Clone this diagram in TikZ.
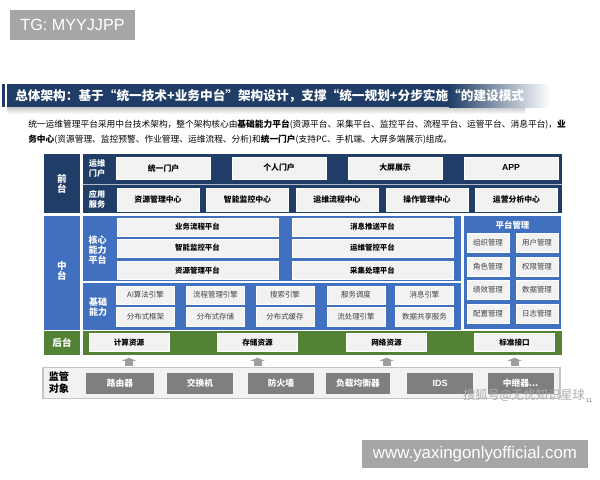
\documentclass[tikz,border=0pt]{standalone}
\usepackage{fontspec}
\setmainfont{Noto Sans CJK SC}
\newfontfamily\latinfont{Liberation Sans}
\usetikzlibrary{arrows.meta}
\definecolor{navy}{HTML}{1F3D66}
\definecolor{midblue}{HTML}{4070BF}
\definecolor{leafgreen}{HTML}{548235}
\definecolor{cellgray}{HTML}{F2F2F2}
\definecolor{boxgray}{HTML}{7F7F7F}
\definecolor{badgegray}{HTML}{A6A6A6}
\definecolor{framegray}{HTML}{C4C4C4}

\begin{document}
\begin{tikzpicture}[x=0.25mm,y=-0.25mm]
\tikzset{wh/.style 2 args = {minimum width=#1*0.25mm, minimum height=#2*0.25mm}}
\tikzset{cell/.style = {fill=cellgray, draw=white, line width=0.4pt, inner sep=0pt, text=black, font=\bfseries\fontsize{5.6}{6.5}\selectfont}}
\tikzset{plaincell/.style = {cell, text=black!75, font=\fontsize{5.3}{6}\selectfont}}
\tikzset{sidelabel/.style = {text=white, align=center, inner sep=0pt, font=\bfseries\fontsize{6.8}{7.3}\selectfont}}
\tikzset{rowlabel/.style = {text=white, align=center, inner sep=0pt, font=\bfseries\fontsize{5.8}{7.2}\selectfont}}
\tikzset{devbox/.style = {fill=boxgray, inner sep=0pt, text=white, font=\bfseries\fontsize{6.2}{7}\selectfont}}
\tikzset{badge/.style = {fill=badgegray, inner sep=0pt, text=white, font=\latinfont}}
\tikzset{up/.style = {-{Triangle[width=3.8mm,length=0.8mm]}, line width=2mm, draw=black!38, shorten <=0.25mm, shorten >=1.5mm}}
\useasboundingbox (0,0) rectangle (600,480);
\fill[white] (0,0) rectangle (600,480);
% badges
\node[badge, wh={125}{30}, font=\latinfont\fontsize{11.5}{12}\selectfont] (tg) at (72.5,25) {TG: MYYJJPP};
\node[badge, wh={226}{28}, font=\latinfont\fontsize{12}{13}\selectfont] (web) at (475,454) {www.yaxingonlyofficial.com};
% title bar
\shade[top color=black!22, bottom color=white] (7,107) rectangle (525,114);
\fill[navy] (2,84) rectangle (4.5,107);
\fill[navy] (7,84) rectangle (450,107);
\shade[left color=navy, right color=white] (449,84) rectangle (550,107);
\node[anchor=west, inner sep=0pt, text=white, font=\bfseries\fontsize{9}{10}\selectfont] (title) at (15,95.5)
  {总体架构：基于“统一技术+业务中台”架构设计，支撑“统一规划+分步实施“的建设模式};
\node[anchor=west, inner sep=0pt, font=\fontsize{6.2}{7}\selectfont] (intro1) at (28,125)
  {统一运维管理平台采用中台技术架构，整个架构核心由\textbf{基础能力平台}(资源平台、采集平台、监控平台、流程平台、运管平台、消息平台)，\textbf{业}};
\node[anchor=west, inner sep=0pt, font=\fontsize{6.2}{7}\selectfont] (intro2) at (28,140)
  {\textbf{务中心}(资源管理、监控预警、作业管理、运维流程、分析)和\textbf{统一门户}(支持PC、手机端、大屏多端展示)组成。};
% bands
\fill[navy] (44,154) rectangle (80,213);
\fill[navy] (83,154) rectangle (562,213);
\draw[navy!35, line width=0.6pt] (83,184) -- (562,184);
\fill[midblue] (44,216) rectangle (80,330);
\fill[midblue] (83,216) rectangle (461,281);
\fill[midblue] (83,283) rectangle (461,330);
\fill[midblue] (464,216) rectangle (561,329);
\fill[leafgreen] (44,331) rectangle (80,355);
\fill[leafgreen] (83,331) rectangle (562,355);
% side labels
\node[sidelabel] (front) at (62,184) {前\\台};
\node[sidelabel] (middle) at (62,271) {中\\台};
\node[sidelabel] (back) at (62,343) {后台};
\node[rowlabel] (portal) at (97,168) {运维\\门户};
\node[rowlabel] (service) at (97,199) {应用\\服务};
\node[rowlabel, font=\bfseries\fontsize{6.4}{6.9}\selectfont] (core) at (97.5,250) {核心\\能力\\平台};
\node[rowlabel, font=\bfseries\fontsize{6.4}{6.9}\selectfont] (base) at (98,307) {基础\\能力};
% front
\node[cell, wh={94}{22}] (p1) at (163.5,168) {统一门户};
\node[cell, wh={94}{22}] (p2) at (279,168) {个人门户};
\node[cell, wh={94}{22}] (p3) at (395,168) {大屏展示};
\node[cell, wh={94}{22}, font=\bfseries\latinfont\fontsize{6.2}{7}\selectfont] (p4) at (511,168) {APP};
\node[cell, wh={82}{23}] (s1) at (158,199.5) {资源管理中心};
\node[cell, wh={82}{23}] (s2) at (247.5,199.5) {智能监控中心};
\node[cell, wh={82}{23}] (s3) at (337,199.5) {运维流程中心};
\node[cell, wh={82}{23}] (s4) at (427,199.5) {操作管理中心};
\node[cell, wh={82}{23}] (s5) at (516.5,199.5) {运营分析中心};
% core
\node[cell, wh={161}{18}, font=\bfseries\fontsize{5.3}{6}\selectfont] (c1) at (197.5,227) {业务流程平台};
\node[cell, wh={161}{18}, font=\bfseries\fontsize{5.3}{6}\selectfont] (c2) at (197.5,248) {智能监控平台};
\node[cell, wh={161}{18}, font=\bfseries\fontsize{5.3}{6}\selectfont] (c3) at (197.5,270.5) {资源管理平台};
\node[cell, wh={161}{18}, font=\bfseries\fontsize{5.3}{6}\selectfont] (c4) at (372.5,227) {消息推送平台};
\node[cell, wh={161}{18}, font=\bfseries\fontsize{5.3}{6}\selectfont] (c5) at (372.5,248) {运维管控平台};
\node[cell, wh={161}{18}, font=\bfseries\fontsize{5.3}{6}\selectfont] (c6) at (372.5,270.5) {采集处理平台};
% base
\node[plaincell, wh={58}{18}] (b1) at (145.5,295) {AI算法引擎};
\node[plaincell, wh={58}{18}] (b2) at (215.5,295) {流程管理引擎};
\node[plaincell, wh={58}{18}] (b3) at (285,295) {搜索引擎};
\node[plaincell, wh={58}{18}] (b4) at (356,295) {服务调度};
\node[plaincell, wh={58}{18}] (b5) at (424.5,295) {消息引擎};
\node[plaincell, wh={58}{19}] (b6) at (145.5,316.5) {分布式框架};
\node[plaincell, wh={58}{19}] (b7) at (215.5,316.5) {分布式存储};
\node[plaincell, wh={58}{19}] (b8) at (285,316.5) {分布式缓存};
\node[plaincell, wh={58}{19}] (b9) at (356,316.5) {流处理引擎};
\node[plaincell, wh={58}{19}] (b10) at (424.5,316.5) {数据共享服务};
% platform management
\node[rowlabel, font=\bfseries\fontsize{6}{7}\selectfont] (mgmt) at (512.5,225) {平台管理};
\node[plaincell, wh={42}{19}] (m1) at (488,242.5) {组织管理};
\node[plaincell, wh={42}{19}] (m2) at (537,242.5) {用户管理};
\node[plaincell, wh={42}{19}] (m3) at (488,266.5) {角色管理};
\node[plaincell, wh={42}{19}] (m4) at (537,266.5) {权限管理};
\node[plaincell, wh={42}{19}] (m5) at (488,290) {绩效管理};
\node[plaincell, wh={42}{19}] (m6) at (537,290) {数据管理};
\node[plaincell, wh={42}{19}] (m7) at (488,313.5) {配置管理};
\node[plaincell, wh={42}{19}] (m8) at (537,313.5) {日志管理};
% back
\node[cell, wh={80}{18}, font=\bfseries\fontsize{5.4}{6}\selectfont] (r1) at (129,342.5) {计算资源};
\node[cell, wh={80}{18}, font=\bfseries\fontsize{5.4}{6}\selectfont] (r2) at (257.5,342.5) {存储资源};
\node[cell, wh={80}{18}, font=\bfseries\fontsize{5.4}{6}\selectfont] (r3) at (386.5,342.5) {网络资源};
\node[cell, wh={80}{18}, font=\bfseries\fontsize{5.4}{6}\selectfont] (r4) at (514.5,342.5) {标准接口};
% monitored objects
\node[draw=framegray, fill=cellgray, line width=0.8pt, wh={517}{31}, inner sep=0pt] (jg) at (301.5,383) {};
\node[text=black, align=center, inner sep=0pt, font=\bfseries\fontsize{7.2}{8.4}\selectfont] (jglabel) at (59,383) {监管\\对象};
\node[devbox, wh={68}{21}] (d1) at (120,383) {路由器};
\node[devbox, wh={66}{21}] (d2) at (200,383) {交换机};
\node[devbox, wh={66}{21}] (d3) at (281,383) {防火墙};
\node[devbox, wh={64}{21}] (d4) at (358,383) {负载均衡器};
\node[devbox, wh={66}{21}, font=\bfseries\latinfont\fontsize{6.4}{7}\selectfont] (d5) at (440,383) {IDS};
\node[devbox, wh={66}{21}] (d6) at (520.5,383) {中继器...};
% arrows
\draw[up] (jg.north -| r1) to (r1.south);
\draw[up] (jg.north -| r2) to (r2.south);
\draw[up] (jg.north -| r3) to (r3.south);
\draw[up] (jg.north -| r4) to (r4.south);
% marks
\node[text=black!32, inner sep=0pt, font=\fontsize{8.7}{9}\selectfont] (mark) at (524,395) {搜狐号@无忧知识星球};
\node[text=black!55, inner sep=0pt, font=\latinfont\fontsize{4}{4}\selectfont] (page) at (589,401) {11};
\end{tikzpicture}
\end{document}
